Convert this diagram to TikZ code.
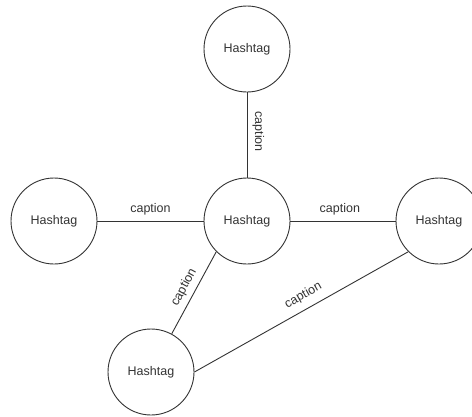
\documentclass[tikz,border=0pt]{standalone}
\usepackage{fontspec}
\setmainfont{Liberation Sans}
\definecolor{strokec}{HTML}{333333}
\definecolor{textc}{HTML}{333333}
\begin{document}
\begin{tikzpicture}[x=1pt,y=-1pt,
  tag/.style={circle, draw=strokec, line width=0.9pt, fill=white, minimum size=86pt, inner sep=0pt,
    font=\fontsize{12.5}{14}\selectfont, text=textc},
  link/.style={draw=strokec, line width=0.9pt},
  captxt/.style={font=\fontsize{12.5}{14}\selectfont, text=textc, inner sep=1pt}]
\useasboundingbox (0,0) rectangle (472,416);
\fill[white] (0,0) rectangle (472,416);
\node[tag] (T) at (247,49) {Hashtag};
\node[tag] (C) at (247,221) {Hashtag};
\node[tag] (L) at (54,221) {Hashtag};
\node[tag] (R) at (439,221) {Hashtag};
\node[tag] (B) at (151,372) {Hashtag};
\draw[link] (T) -- node[captxt, sloped, above=4pt, pos=0.46] {caption} (C);
\draw[link] (L) -- node[captxt, above=4pt] {caption} (C);
\draw[link] (C) -- node[captxt, above=4pt, pos=0.47] {caption} (R);
\draw[link] (C.225) -- node[captxt, sloped, above=4pt] {caption} (B);
\draw[link] (B.east) -- node[captxt, sloped, above=6pt, pos=0.54] {caption} (R.225);
\end{tikzpicture}
\end{document}
